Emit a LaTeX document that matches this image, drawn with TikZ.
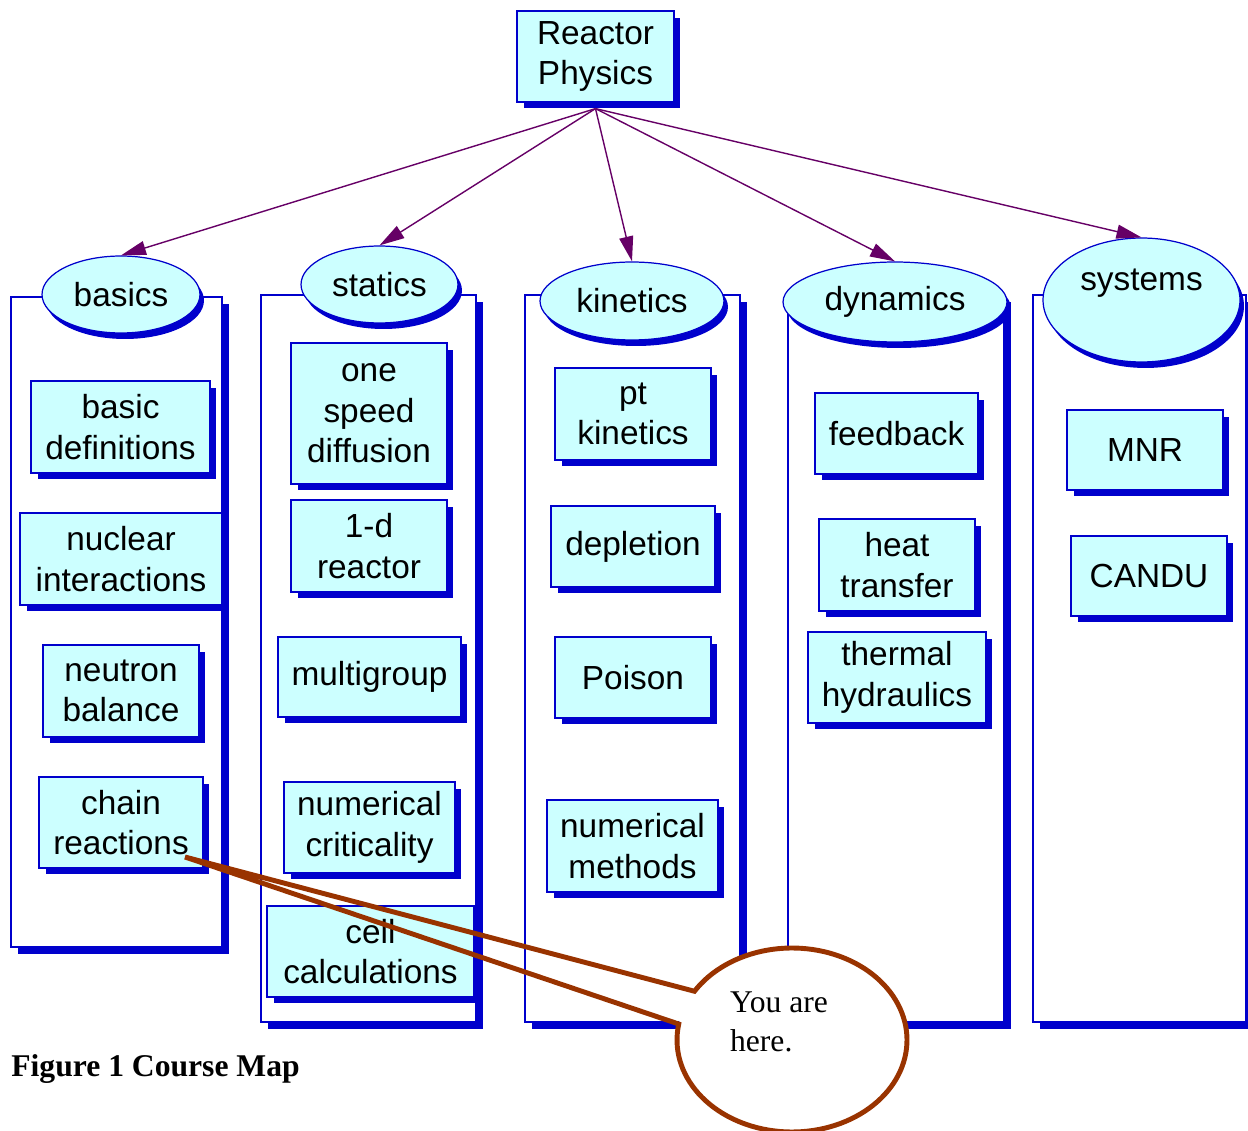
\documentclass[tikz,border=0pt]{standalone}
\usepackage{fontspec}
\setmainfont{Liberation Sans}
\newfontfamily\capfont{Liberation Serif}
\usetikzlibrary{shapes.geometric,shadows,arrows.meta,calc}

\definecolor{mapblue}{RGB}{0,0,204}
\definecolor{mapcyan}{RGB}{204,255,255}
\definecolor{mappurple}{RGB}{102,0,102}
\definecolor{mapbrown}{RGB}{153,51,0}

\tikzset{
  base/.style={draw=mapblue, line width=0.7pt, fill=mapcyan, inner sep=0pt, align=center,
    font=\fontsize{19}{23}\selectfont},
  box/.style={base, drop shadow={shadow xshift=0.13cm, shadow yshift=-0.13cm, fill=mapblue, opacity=1}},
  area/.style={base, ellipse, drop shadow={shadow xshift=0.08cm, shadow yshift=-0.12cm, fill=mapblue, opacity=1}},
  panel/.style={draw=mapblue, line width=0.7pt, fill=white,
    drop shadow={shadow xshift=0.14cm, shadow yshift=-0.14cm, fill=mapblue, opacity=1}},
  branch/.style={mappurple, line width=0.8pt, -{Triangle[length=0.5cm,width=0.28cm]}}
}

\begin{document}
\begin{tikzpicture}[x=0.02cm,y=-0.02cm]
\useasboundingbox (0,0) rectangle (1248,1131);

% Columns
\node[panel, minimum width=4.22cm, minimum height=13cm] (pbasics) at (116.5,622) {};
\node[panel, minimum width=4.30cm, minimum height=14.54cm] (pstatics) at (368.5,658.5) {};
\node[panel, minimum width=4.30cm, minimum height=14.54cm] (pkinetics) at (632.5,658.5) {};
\node[panel, minimum width=4.32cm, minimum height=14.54cm] (pdynamics) at (896,658.5) {};
\node[panel, minimum width=4.26cm, minimum height=14.54cm] (psystems) at (1139.5,658.5) {};

% Column heads
\node[area, minimum width=3.16cm, minimum height=1.54cm] (basics) at (121,294.5) {basics};
\node[area, minimum width=3.14cm, minimum height=1.54cm] (statics) at (379.5,284.5) {statics};
\node[area, minimum width=3.68cm, minimum height=1.56cm] (kinetics) at (632,301) {kinetics};
\node[area, minimum width=4.48cm, minimum height=1.60cm] (dynamics) at (895,302) {dynamics};
\node[area, minimum width=3.94cm, minimum height=2.48cm] (systems) at (1141.5,300) {systems\\\mbox{}};

% Topics
\node[box, minimum width=3.58cm, minimum height=1.84cm] (basicdef) at (120.5,427) {basic\\definitions};
\node[box, minimum width=4.04cm, minimum height=1.84cm] (nuclear) at (121,559) {nuclear\\interactions};
\node[box, minimum width=3.12cm, minimum height=1.84cm] (balance) at (121,691) {neutron\\balance};
\node[box, minimum width=3.28cm, minimum height=1.82cm] (chain) at (121,822.5) {chain\\reactions};

\node[box, minimum width=3.12cm, minimum height=2.82cm] (onespeed) at (369,413.5) {one\\speed\\diffusion};
\node[box, minimum width=3.12cm, minimum height=1.84cm] (oned) at (369,546) {1-d\\reactor};
\node[box, minimum width=3.66cm, minimum height=1.60cm] (multigroup) at (369.5,677) {multigroup};
\node[box, minimum width=3.42cm, minimum height=1.82cm] (numcrit) at (369.5,827.5) {numerical\\criticality};
\node[box, minimum width=4.14cm, minimum height=1.82cm] (cell) at (370.5,951.5) {cell\\calculations};

\node[box, minimum width=3.12cm, minimum height=1.84cm] (ptkin) at (633,414) {pt\\kinetics};
\node[box, minimum width=3.28cm, minimum height=1.62cm] (depletion) at (633,546.5) {depletion};
\node[box, minimum width=3.12cm, minimum height=1.62cm] (poison) at (633,677.5) {Poison};
\node[box, minimum width=3.42cm, minimum height=1.84cm] (nummeth) at (632.5,846) {numerical\\methods};

\node[box, minimum width=3.26cm, minimum height=1.62cm] (feedback) at (896.5,433.5) {feedback};
\node[box, minimum width=3.12cm, minimum height=1.84cm] (heat) at (897,565) {heat\\transfer};
\node[box, minimum width=3.56cm, minimum height=1.82cm] (thermal) at (897,677.5) {thermal\\hydraulics};

\node[box, minimum width=3.12cm, minimum height=1.60cm] (mnr) at (1145,450) {MNR};
\node[box, minimum width=3.12cm, minimum height=1.60cm] (candu) at (1149,576) {CANDU};

% Root
\node[box, minimum width=3.14cm, minimum height=1.82cm] (rp) at (595.5,56.5) {Reactor\\Physics};

% Branches
\foreach \t in {basics,statics,kinetics,dynamics,systems}
  \draw[branch] ($(rp.south)+(0,6)$) -- (\t.north);

% Callout
\node[ellipse, fill=white, inner sep=0pt, minimum width=4.6cm, minimum height=3.68cm] (callout) at (792,1040) {};
\coordinate (tip) at (185,857);
\draw[mapbrown, line width=2.8pt] (tip) -- plot[domain=148:-190, samples=120] ({792+115*cos(\x)},{1040-92*sin(\x)}) -- cycle;
\node[align=left, font=\capfont\fontsize{18}{22}\selectfont] (here) at (779,1022) {You are\\here.};

% Caption
\node[anchor=west, inner sep=0pt, font=\capfont\bfseries\fontsize{18}{22}\selectfont] (caption) at (11,1069) {Figure 1 Course Map};
\end{tikzpicture}
\end{document}
